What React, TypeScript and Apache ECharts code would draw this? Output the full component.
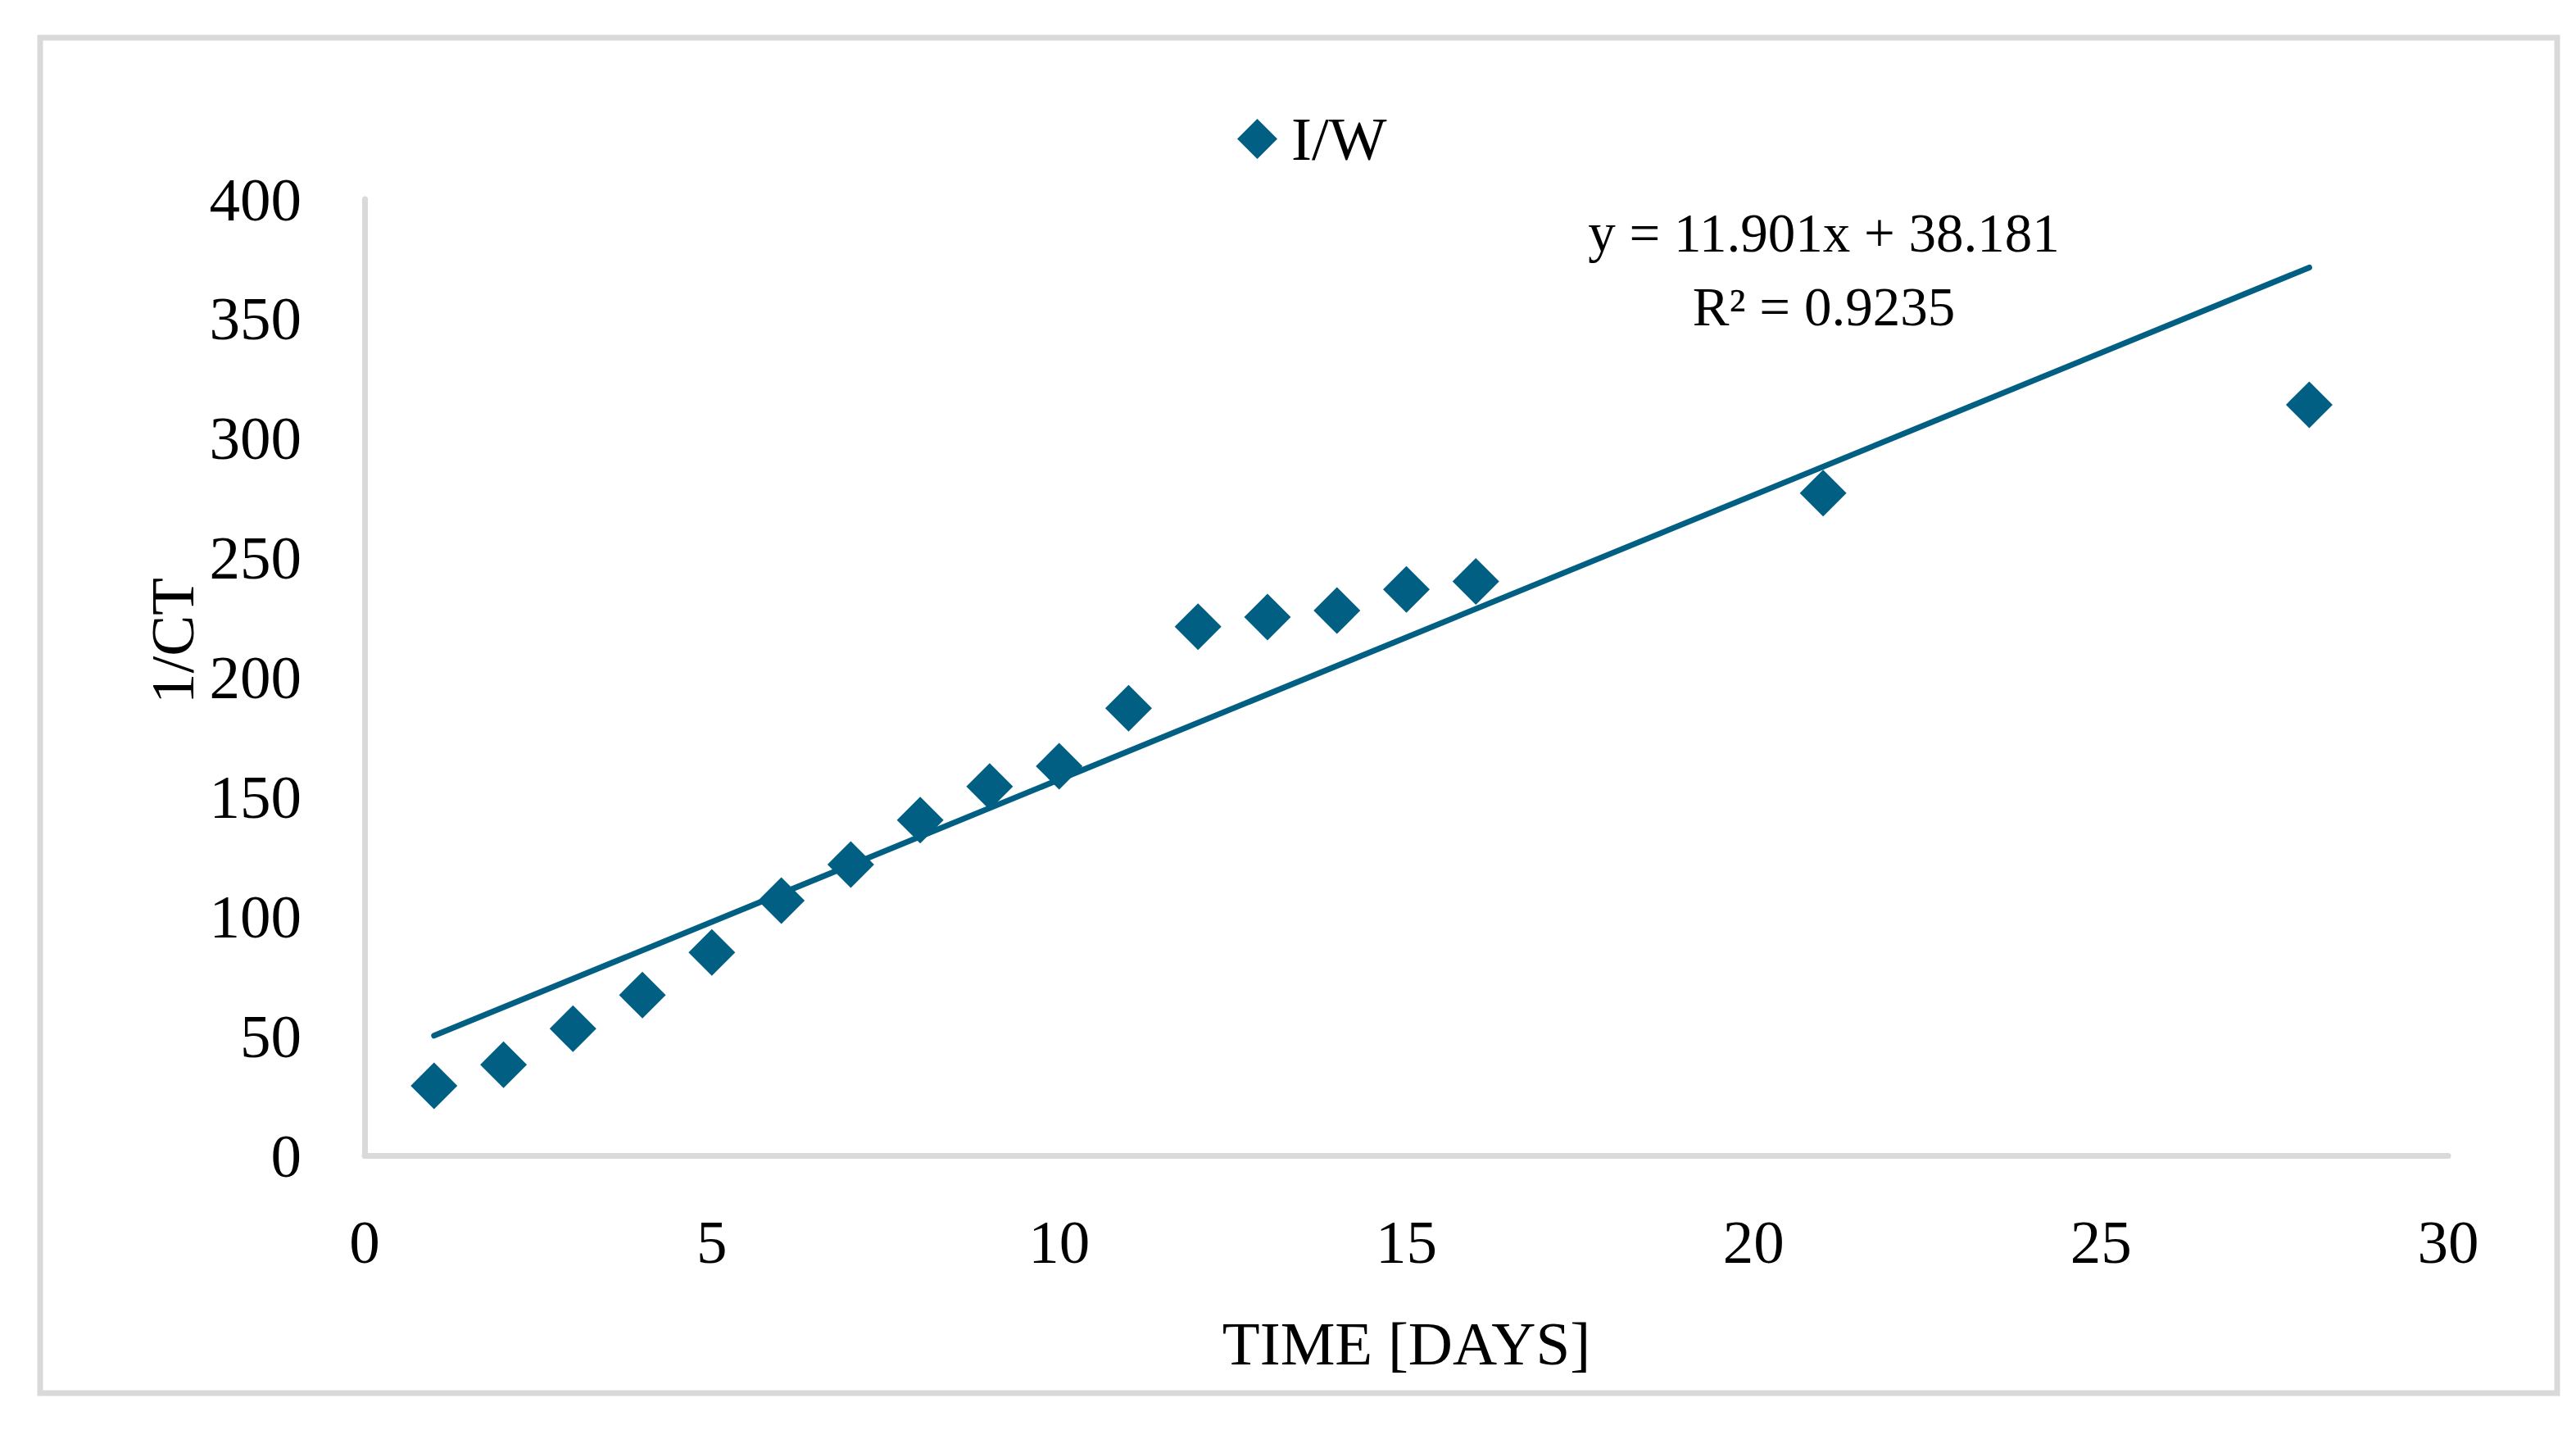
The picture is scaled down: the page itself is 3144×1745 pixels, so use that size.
import React, { useEffect, useRef } from "react";
import * as echarts from "echarts";

const DAYS = [1, 2, 3, 4, 5, 6, 7, 8, 9, 10, 11, 12, 13, 14, 15, 16, 21, 28];
const INV_CT = [29.1, 38.0, 53.0, 67.1, 84.9, 106.6, 121.7, 140.3, 154.3, 162.8, 187.1, 221.2, 225.2, 227.9, 236.8, 240.1, 277, 314];
const TREND_X = [1, 28];
const TREND_Y = [50.1, 371.4];
const SERIES_NAME = "I/W";
const EQUATION = "y = 11.901x + 38.181";
const R_SQUARED = "R² = 0.9235";
const X_TITLE = "TIME [DAYS]";
const Y_TITLE = "1/CT";

const COLOR = "#005f82";
const GRAY = "#d9d9d9";
const FONT = "'Liberation Serif', 'Times New Roman', serif";

export default function App() {
  const ref = useRef<HTMLDivElement>(null);
  useEffect(() => {
    if (!ref.current) return;
    const chart = echarts.init(ref.current, null, { renderer: "svg" });
    const points = DAYS.map((d, i) => [d, INV_CT[i]]);
    const trend = TREND_X.map((d, i) => [d, TREND_Y[i]]);
    chart.setOption({
      animation: false,
      backgroundColor: "#ffffff",
      textStyle: { fontFamily: FONT },
      grid: { left: 445, right: 156, top: 243, bottom: 335, containLabel: false },
      legend: {
        left: 1505,
        top: 127,
        itemWidth: 49,
        itemHeight: 49,
        data: [{ name: SERIES_NAME, icon: "diamond", itemStyle: { color: COLOR, opacity: 1 } }],
        textStyle: { fontFamily: FONT, fontSize: 75, color: "#000", padding: [0, 0, 0, 12] },
      },
      xAxis: {
        type: "value",
        min: 0,
        max: 30,
        interval: 5,
        name: X_TITLE,
        nameLocation: "middle",
        nameGap: 192,
        nameTextStyle: { fontFamily: FONT, fontSize: 75, color: "#000" },
        axisLine: { show: true, lineStyle: { color: GRAY, width: 7 } },
        axisTick: { show: false },
        splitLine: { show: false },
        axisLabel: { fontFamily: FONT, fontSize: 75, color: "#000", margin: 68 },
      },
      yAxis: {
        type: "value",
        min: 0,
        max: 400,
        interval: 50,
        axisLine: { show: true, lineStyle: { color: GRAY, width: 7 } },
        axisTick: { show: false },
        splitLine: { show: false },
        axisLabel: { fontFamily: FONT, fontSize: 75, color: "#000", margin: 77 },
      },
      graphic: [
        {
          type: "rect",
          shape: { x: 49, y: 46, width: 3072, height: 1654 },
          style: { fill: "none", stroke: GRAY, lineWidth: 7 },
          silent: true,
        },
        {
          type: "text",
          x: 210,
          y: 782,
          rotation: Math.PI / 2,
          style: {
            text: Y_TITLE,
            font: `75px ${FONT}`,
            fill: "#000",
            textAlign: "center",
            textVerticalAlign: "middle",
          },
        },
        {
          type: "text",
          x: 2226,
          y: 284,
          style: {
            text: EQUATION,
            font: `67px ${FONT}`,
            fill: "#000",
            textAlign: "center",
            textVerticalAlign: "middle",
          },
        },
        {
          type: "text",
          x: 2226,
          y: 374,
          style: {
            text: R_SQUARED,
            font: `67px ${FONT}`,
            fill: "#000",
            textAlign: "center",
            textVerticalAlign: "middle",
          },
        },
      ],
      series: [
        {
          name: SERIES_NAME,
          type: "scatter",
          data: points,
          symbol: "diamond",
          symbolSize: 57,
          itemStyle: { color: COLOR, opacity: 1 },
          z: 3,
        },
        {
          name: "trend",
          type: "line",
          data: trend,
          showSymbol: false,
          symbol: "none",
          lineStyle: { color: COLOR, width: 7, cap: "round" },
          z: 2,
        },
      ],
    });
    return () => chart.dispose();
  }, []);
  return <div ref={ref} style={{ position: "fixed", left: 0, top: 0, width: 3144, height: 1745 }} />;
}
